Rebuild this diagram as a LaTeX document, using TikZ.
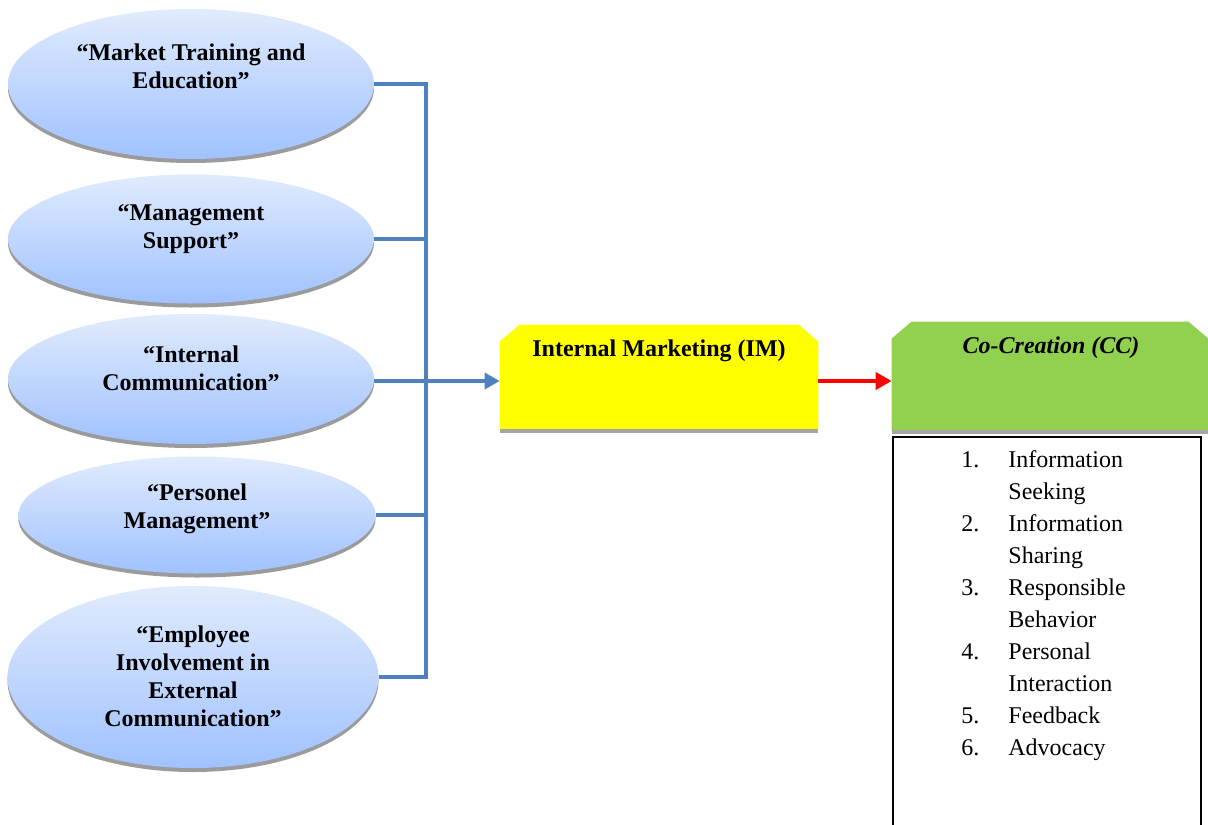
\documentclass[tikz,border=0pt]{standalone}
\usepackage{fontspec}
\setmainfont{Liberation Serif}
\usetikzlibrary{shapes.geometric,arrows.meta,shadows}
\definecolor{elltop}{RGB}{224,235,253}
\definecolor{ellbot}{RGB}{160,194,255}
\definecolor{bluel}{RGB}{79,129,189}
\definecolor{ccgreen}{RGB}{146,208,80}
\definecolor{imyellow}{RGB}{255,255,0}
\definecolor{shadowgray}{RGB}{155,155,155}
\definecolor{boxshadow}{RGB}{166,166,166}
\newcommand\itm[1]{\makebox[23.5pt][l]{#1}}
\begin{document}
\begin{tikzpicture}[x=0.5pt,y=-0.5pt,
  ell/.style={ellipse, inner sep=0pt, draw=none, top color=elltop, bottom color=ellbot,
    drop shadow={shadow xshift=0pt, shadow yshift=-2pt, fill=shadowgray, opacity=1}},
  elltext/.style={font=\fontsize{12}{14}\selectfont\bfseries, align=center, inner sep=0pt},
  conn/.style={draw=bluel, line width=1.75pt},
  boxnode/.style={rectangle, draw=none, inner sep=0pt},
  boxtitle/.style={font=\fontsize{12}{14}\selectfont\bfseries, inner sep=0pt}
]
\clip (0,0) rectangle (1208,824);
\fill[white] (0,0) rectangle (1208,824);

% ellipses
\node[ell, minimum width=183pt, minimum height=75pt] (e1) at (191,84) {};
\node[ell, minimum width=183pt, minimum height=64.5pt] (e2) at (191,239) {};
\node[ell, minimum width=183pt, minimum height=65pt] (e3) at (191,379) {};
\node[ell, minimum width=178.5pt, minimum height=58.5pt] (e4) at (197,515) {};
\node[ell, minimum width=185.5pt, minimum height=91pt] (e5) at (193,677) {};

\node[elltext] (t1) at (191,66) {``Market Training and\\Education''};
\node[elltext] (t2) at (191,229) {``Management\\Support''};
\node[elltext] (t3) at (191,368) {``Internal\\Communication''};
\node[elltext] (t4) at (197,509) {``Personel\\Management''};
\node[elltext] (t5) at (193,676) {``Employee\\Involvement in\\External\\Communication''};

% bus
\coordinate (bus) at (426,85);
\draw[conn] (e1.east) -- (e1.east -| bus) -- (e5.east -| bus) -- (e5.east);
\draw[conn] (e2.east) -- (e2.east -| bus);
\draw[conn] (e4.east) -- (e4.east -| bus);

% boxes
\node[boxnode, minimum width=159pt, minimum height=52pt] (im) at (659,377) {};
\fill[imyellow] (im.south west) -- ([yshift=-8.5pt]im.north west) -- ([xshift=10pt]im.north west)
  -- ([xshift=-10pt]im.north east) -- ([yshift=-8.5pt]im.north east) -- (im.south east) -- cycle;
\fill[boxshadow] (im.south west) rectangle ([yshift=-2pt]im.south east);
\node[boxtitle] (imt) at (659,351) {Internal Marketing (IM)};

\node[boxnode, minimum width=158pt, minimum height=54pt] (cc) at (1050,376) {};
\fill[ccgreen] (cc.south west) -- ([yshift=-8.5pt]cc.north west) -- ([xshift=10pt]cc.north west)
  -- ([xshift=-10pt]cc.north east) -- ([yshift=-8.5pt]cc.north east) -- (cc.south east) -- cycle;
\fill[boxshadow] (cc.south west) rectangle ([yshift=-2pt]cc.south east);
\node[boxtitle, font=\fontsize{12}{14}\selectfont\bfseries\itshape] (cct) at (1051,348) {Co-Creation (CC)};

\draw[conn, -{Triangle[length=7.5pt,width=8pt]}] ([yshift=-1pt]e3.east) -- ([yshift=-1pt]e3.east -| im.west);
\draw[draw=red, line width=2pt, -{Triangle[length=8pt,width=8.5pt]}] ([yshift=-2pt]im.east) -- ([yshift=-2pt]im.east -| cc.west);

% list
\node[draw=black, line width=0.8pt, inner sep=0pt, anchor=north west, minimum width=154pt, minimum height=200pt] (lst) at (892,436) {};
\node[anchor=base west, inner sep=0pt, font=\fontsize{12}{16}\selectfont] (items) at (961,467) {%
\begin{tabular}[t]{@{}l@{}l@{}}
\itm{1.} & Information\\
 & Seeking\\
\itm{2.} & Information\\
 & Sharing\\
\itm{3.} & Responsible\\
 & Behavior\\
\itm{4.} & Personal\\
 & Interaction\\
\itm{5.} & Feedback\\
\itm{6.} & Advocacy
\end{tabular}};
\end{tikzpicture}
\end{document}
